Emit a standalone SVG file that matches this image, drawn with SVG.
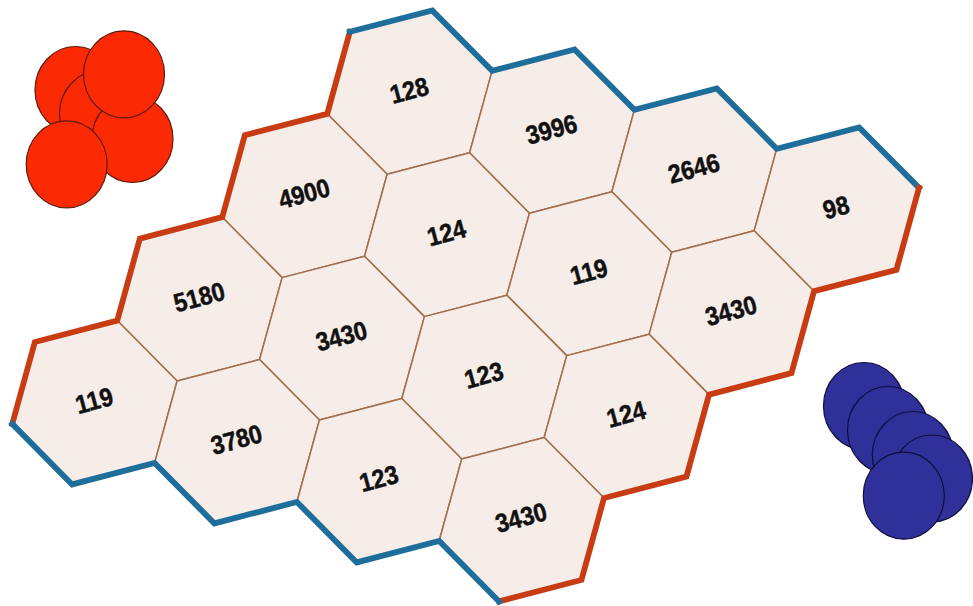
<svg xmlns="http://www.w3.org/2000/svg" xmlns:xlink="http://www.w3.org/1999/xlink" width="973" height="606" viewBox="0 0 973 606">
<style>
.cell{fill:#f6ece8;stroke:#a06e4e;stroke-width:1.5;stroke-linejoin:round}
.lbl{font-family:"Liberation Sans",Arial,sans-serif;font-weight:bold;font-size:26px;fill:#111;stroke:#111;stroke-width:0.5;text-anchor:middle}
.edge{fill:none;stroke-width:5.8;stroke-linejoin:miter;stroke-linecap:square}
.red-edge{stroke:#c83c14}
.blue-edge{stroke:#1e6e9b}
.rs{fill:#fc2a04;stroke:#5a1a10;stroke-width:1.2}
.bs{fill:#30309a;stroke:#0e0e3a;stroke-width:1.2}
</style>
<defs>
<polygon id="hex" points="-59.87,-60.47 22.57,-81.93 82.43,-21.47 59.87,60.47 -22.57,81.93 -82.43,21.47"/>
</defs>
<rect width="973" height="606" fill="#ffffff"/>

<g id="cell-0-0"><use href="#hex" class="cell" x="409.7" y="92.3"/><text class="lbl" transform="translate(409.7,92.3) rotate(-15) scale(0.9,1)" y="7">128</text></g>
<g id="cell-1-0"><use href="#hex" class="cell" x="552" y="131.3"/><text class="lbl" transform="translate(552,131.3) rotate(-15) scale(0.9,1)" y="7">3996</text></g>
<g id="cell-2-0"><use href="#hex" class="cell" x="694.3" y="170.3"/><text class="lbl" transform="translate(694.3,170.3) rotate(-15) scale(0.9,1)" y="7">2646</text></g>
<g id="cell-3-0"><use href="#hex" class="cell" x="836.6" y="209.3"/><text class="lbl" transform="translate(836.6,209.3) rotate(-15) scale(0.9,1)" y="7">98</text></g>

<g id="cell-0-1"><use href="#hex" class="cell" x="304.7" y="195.7"/><text class="lbl" transform="translate(304.7,195.7) rotate(-15) scale(0.9,1)" y="7">4900</text></g>
<g id="cell-1-1"><use href="#hex" class="cell" x="447" y="234.7"/><text class="lbl" transform="translate(447,234.7) rotate(-15) scale(0.9,1)" y="7">124</text></g>
<g id="cell-2-1"><use href="#hex" class="cell" x="589.3" y="273.7"/><text class="lbl" transform="translate(589.3,273.7) rotate(-15) scale(0.9,1)" y="7">119</text></g>
<g id="cell-3-1"><use href="#hex" class="cell" x="731.6" y="312.7"/><text class="lbl" transform="translate(731.6,312.7) rotate(-15) scale(0.9,1)" y="7">3430</text></g>

<g id="cell-0-2"><use href="#hex" class="cell" x="199.7" y="299.1"/><text class="lbl" transform="translate(199.7,299.1) rotate(-15) scale(0.9,1)" y="7">5180</text></g>
<g id="cell-1-2"><use href="#hex" class="cell" x="342" y="338.1"/><text class="lbl" transform="translate(342,338.1) rotate(-15) scale(0.9,1)" y="7">3430</text></g>
<g id="cell-2-2"><use href="#hex" class="cell" x="484.3" y="377.1"/><text class="lbl" transform="translate(484.3,377.1) rotate(-15) scale(0.9,1)" y="7">123</text></g>
<g id="cell-3-2"><use href="#hex" class="cell" x="626.6" y="416.1"/><text class="lbl" transform="translate(626.6,416.1) rotate(-15) scale(0.9,1)" y="7">124</text></g>

<g id="cell-0-3"><use href="#hex" class="cell" x="94.7" y="402.5"/><text class="lbl" transform="translate(94.7,402.5) rotate(-15) scale(0.9,1)" y="7">119</text></g>
<g id="cell-1-3"><use href="#hex" class="cell" x="237" y="441.5"/><text class="lbl" transform="translate(237,441.5) rotate(-15) scale(0.9,1)" y="7">3780</text></g>
<g id="cell-2-3"><use href="#hex" class="cell" x="379.3" y="480.5"/><text class="lbl" transform="translate(379.3,480.5) rotate(-15) scale(0.9,1)" y="7">123</text></g>
<g id="cell-3-3"><use href="#hex" class="cell" x="521.6" y="519.5"/><text class="lbl" transform="translate(521.6,519.5) rotate(-15) scale(0.9,1)" y="7">3430</text></g>

<g id="board-edges">
<path class="edge red-edge" d="M12.27,423.97 L34.83,342.03 L117.27,320.57 L139.83,238.63 L222.27,217.17 L244.83,135.23 L327.27,113.77 L349.83,31.83"/>
<path class="edge blue-edge" d="M349.83,31.83 L432.27,10.37 L492.13,70.83 L574.57,49.37 L634.43,109.83 L716.87,88.37 L776.73,148.83 L859.17,127.37 L919.03,187.83"/>
<path class="edge red-edge" d="M919.03,187.83 L896.47,269.77 L814.03,291.23 L791.47,373.17 L709.03,394.63 L686.47,476.57 L604.03,498.03 L581.47,579.97 L499.03,601.43"/>
<path class="edge blue-edge" d="M499.03,601.43 L439.17,540.97 L356.73,562.43 L296.87,501.97 L214.43,523.43 L154.57,462.97 L72.13,484.43 L12.27,423.97"/>
</g>

<g id="red-stones">
<ellipse class="rs" cx="75.5" cy="90" rx="40.5" ry="43.5"/>
<ellipse class="rs" cx="100" cy="114" rx="40.5" ry="43.5"/>
<ellipse class="rs" cx="132.5" cy="139" rx="40.5" ry="43.5"/>
<ellipse class="rs" cx="124" cy="74.3" rx="40.5" ry="43.5"/>
<ellipse class="rs" cx="66.7" cy="164.3" rx="40.5" ry="43.5"/>
</g>

<g id="blue-stones">
<ellipse class="bs" cx="864" cy="406" rx="40.5" ry="43.5"/>
<ellipse class="bs" cx="888" cy="430" rx="40.5" ry="43.5"/>
<ellipse class="bs" cx="912.8" cy="455" rx="40.5" ry="43.5"/>
<ellipse class="bs" cx="932" cy="478.5" rx="40.5" ry="43.5"/>
<ellipse class="bs" cx="903.8" cy="495.7" rx="40.5" ry="43.5"/>
</g>
</svg>
